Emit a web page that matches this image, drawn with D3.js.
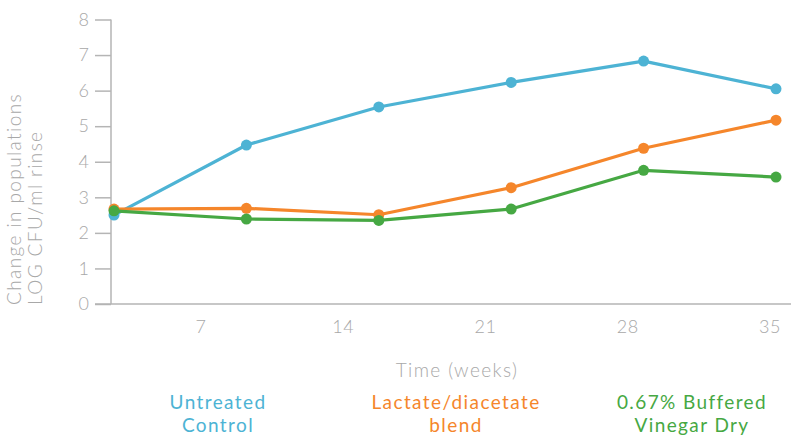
<!DOCTYPE html>
<html>
<head>
<meta charset="utf-8">
<script src="https://cdn.jsdelivr.net/npm/d3@7"></script>
<style>
  html, body { margin: 0; padding: 0; background: #fff; }
  svg { display: block; font-family: "Lato", "Open Sans", sans-serif; }
</style>
</head>
<body>
<svg id="chart" width="791" height="438"></svg>
<script>
// Sampling points (weeks) and microbial counts per treatment
const weeks = [0, 7, 14, 21, 28, 35];
const untreated = [2.50, 4.47, 5.54, 6.23, 6.83, 6.05];
const lactate = [2.67, 2.69, 2.51, 3.27, 4.38, 5.17];
const vinegar = [2.62, 2.39, 2.35, 2.67, 3.76, 3.57];
const xTickLabels = [7, 14, 21, 28, 35];
const yTicks = [0, 1, 2, 3, 4, 5, 6, 7, 8];
const seriesNames = [["Untreated", "Control"], ["Lactate/diacetate", "blend"], ["0.67% Buffered", "Vinegar Dry"]];
const seriesColors = ["#4db3d4", "#f5862b", "#46a843"];

const svg = d3.select("#chart");
const axisGrey = "#b5b5b5";
const textGrey = "#a8a8a8";

const x = d3.scalePoint().domain(weeks).range([114, 776]);
const xLabel = d3.scaleLinear().domain([7, 35]).range([201, 770]);
const y = d3.scaleLinear().domain([0, 8]).range([304, 19.5]);

// y axis
const yAxis = svg.append("g").attr("transform", "translate(111,0)")
  .call(d3.axisLeft(y).tickValues(yTicks).tickSize(16).tickPadding(6).tickFormat(d3.format("d")));
yAxis.select(".domain").attr("stroke", axisGrey).attr("stroke-width", 1.5).attr("d", `M0,${y(8)}V${y(0)}`);
yAxis.selectAll(".tick line").attr("stroke", axisGrey).attr("stroke-width", 1.5);
yAxis.selectAll(".tick text").attr("fill", textGrey).attr("font-size", 18).attr("font-weight", 300)
  .attr("font-family", "Lato, sans-serif");

// x axis baseline
svg.append("line").attr("x1", 95).attr("x2", 791).attr("y1", y(0)).attr("y2", y(0))
  .attr("stroke", axisGrey).attr("stroke-width", 1.5);

// x tick labels
svg.append("g").selectAll("text").data(xTickLabels).join("text")
  .attr("x", d => xLabel(d)).attr("y", 333)
  .attr("text-anchor", "middle").attr("fill", textGrey)
  .attr("font-size", 18).attr("font-weight", 300).attr("letter-spacing", 0.5)
  .text(d => d);

// axis titles
svg.append("text").attr("x", 457).attr("y", 377).attr("text-anchor", "middle")
  .attr("fill", textGrey).attr("font-size", 19).attr("font-weight", 300)
  .attr("letter-spacing", 1.4).text("Time (weeks)");

const yTitle = svg.append("text").attr("transform", "translate(0,305) rotate(-90)")
  .attr("fill", textGrey).attr("font-size", 19).attr("font-weight", 300).attr("letter-spacing", 1.4);
yTitle.append("tspan").attr("x", 0).attr("y", 21).text("Change in populations");
yTitle.append("tspan").attr("x", 0).attr("y", 42).text("LOG CFU/ml rinse");

// series lines and markers
const allSeries = [untreated, lactate, vinegar];
const line = d3.line().x((d, i) => x(weeks[i])).y(d => y(d));
allSeries.forEach((vals, k) => {
  const g = svg.append("g");
  g.append("path").datum(vals).attr("d", line).attr("fill", "none")
    .attr("stroke", seriesColors[k]).attr("stroke-width", 3.2).attr("stroke-linejoin", "round");
  g.selectAll("circle").data(vals).join("circle")
    .attr("cx", (d, i) => x(weeks[i])).attr("cy", d => y(d)).attr("r", 5.5)
    .attr("fill", seriesColors[k]);
});

// legend
const legendX = [218, 456, 692];
seriesNames.forEach((lines, k) => {
  const t = svg.append("text").attr("text-anchor", "middle").attr("fill", seriesColors[k])
    .attr("font-size", 19).attr("font-weight", 400).attr("letter-spacing", 1.4);
  lines.forEach((s, j) => t.append("tspan").attr("x", legendX[k]).attr("y", 409 + j * 23).text(s));
});
</script>
</body>
</html>
